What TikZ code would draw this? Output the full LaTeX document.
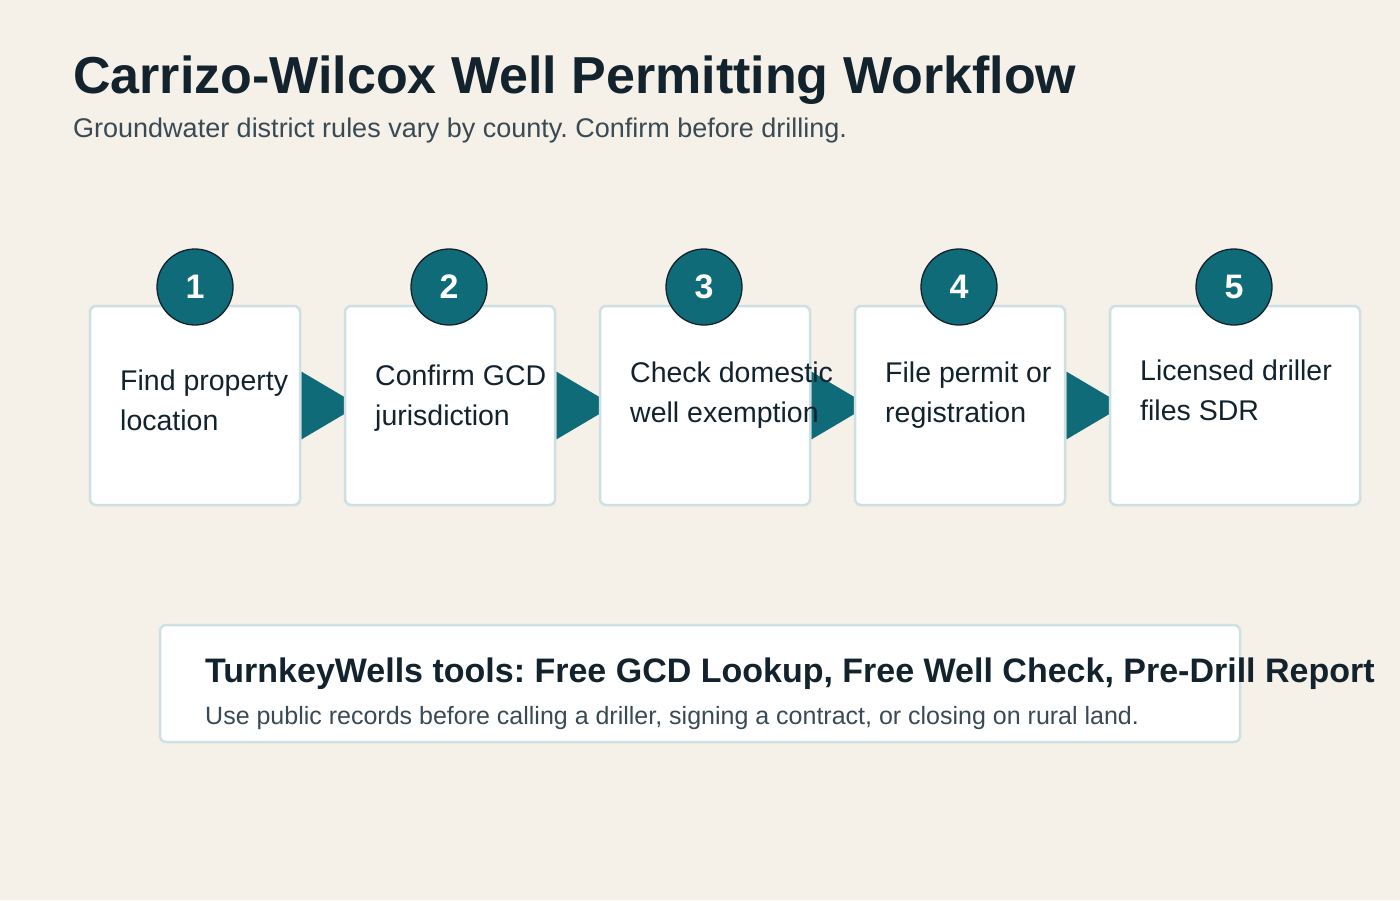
\documentclass[tikz,border=0pt]{standalone}
\usepackage{fontspec}
\setmainfont{Liberation Sans}
\frenchspacing
\usetikzlibrary{calc,backgrounds}
\definecolor{bg}{HTML}{F5F0E8}
\definecolor{teal}{HTML}{0F6B78}
\definecolor{ink}{HTML}{13232E}
\definecolor{sub}{HTML}{3A4A55}
\definecolor{rim}{HTML}{CFE0E3}
\tikzset{
  stepbox/.style={draw=rim, line width=2.5pt, fill=white, rounded corners=6pt,
    minimum height=199pt, inner sep=0pt},
  numdisc/.style={circle, draw=ink, line width=1.3pt, fill=teal, minimum size=76pt,
    inner sep=0pt, text=white, font=\fontsize{34}{34}\selectfont\bfseries},
  steptext/.style={anchor=west, align=left, text=ink, inner sep=0pt,
    font=\fontsize{28.5}{40}\selectfont},
}
\begin{document}
\begin{tikzpicture}[x=1pt,y=-1pt]
\useasboundingbox (0,0) rectangle (1400,900);

\node[anchor=base west, inner sep=0pt, text=ink, font=\fontsize{52}{52}\selectfont\bfseries] (title) at (73,93) {Carrizo-Wilcox Well Permitting Workflow};
\node[anchor=base west, inner sep=0pt, text=sub, font=\fontsize{27}{30}\selectfont] (subtitle) at (73,137) {Groundwater district rules vary by county. Confirm before drilling.};

\node[stepbox, minimum width=210pt] (b1) at (195,405.5) {};
\node[stepbox, minimum width=210pt] (b2) at (450,405.5) {};
\node[stepbox, minimum width=210pt] (b3) at (705,405.5) {};
\node[stepbox, minimum width=210pt] (b4) at (960,405.5) {};
\node[stepbox, minimum width=250pt] (b5) at (1235,405.5) {};

\begin{scope}[on background layer]
\fill[bg] (0,0) rectangle (1400,900);
\foreach \a/\b in {b1/b2,b2/b3,b3/b4,b4/b5}{
  \fill[teal] ($(\a.east)+(0,-34)$) -- ($(\a.east)+(0,34)$) -- ($(\b.west)+(15,0)$) -- cycle;
}
\end{scope}

\node[steptext] (t1) at (120,400.5) {Find property\\location};
\node[steptext] (t2) at (375,398) {Confirm GCD\\jurisdiction};
\node[steptext] (t3) at (630,395) {Check domestic\\well exemption};
\node[steptext] (t4) at (885,395) {File permit or\\registration};
\node[steptext] (t5) at (1140,390) {Licensed driller\\files SDR};

\node[numdisc] (n1) at (195,287) {1};
\node[numdisc] (n2) at (449,287) {2};
\node[numdisc] (n3) at (704,287) {3};
\node[numdisc] (n4) at (959,287) {4};
\node[numdisc] (n5) at (1234,287) {5};

\node[draw=rim, line width=2.5pt, fill=white, rounded corners=6pt, minimum width=1080pt, minimum height=117pt, inner sep=0pt] (tools) at (700,683.5) {};
\node[anchor=base west, inner sep=0pt, text=ink, font=\fontsize{34}{34}\selectfont\bfseries] (toolstitle) at (205,682) {TurnkeyWells tools: Free GCD Lookup, Free Well Check, Pre-Drill Report};
\node[anchor=base west, inner sep=0pt, text=sub, font=\fontsize{25}{26}\selectfont] (toolsnote) at (205,724) {Use public records before calling a driller, signing a contract, or closing on rural land.};
\end{tikzpicture}
\end{document}
